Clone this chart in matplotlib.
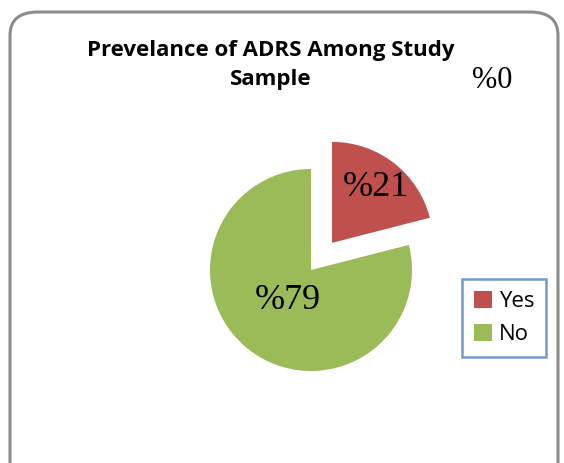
#!/usr/bin/env python3
"""Pie chart: prevalence of ADRS among study sample."""

import numpy as np
import matplotlib
matplotlib.use("Agg")
import matplotlib.pyplot as plt
from matplotlib.patches import FancyBboxPatch

labels = ["Yes", "No"]
values = [21, 79]
colors = ["#C0504D", "#9BBB59"]
explode = [0.34, 0.0]
label_dist = [0.70, 0.38]
extra_label = "%0"

W, H = 564, 463
fig = plt.figure(figsize=(W / 100, H / 100), dpi=100)

# rounded outer frame (bottom edge runs past the image)
frame = FancyBboxPatch(
    (10 / W, -30 / H), 548 / W, 481 / H,
    boxstyle="round,pad=0,rounding_size=0.05",
    transform=fig.transFigure, facecolor="none", edgecolor="#8c8c8c",
    linewidth=2.2, zorder=-1,
)
fig.patches.append(frame)

fig.text(271 / W, 1 - 65 / H, "Prevelance of ADRS Among Study\nSample",
         ha="center", va="center", fontsize=16, fontweight="bold",
         family="Open Sans", linespacing=1.45)
fig.text(492 / W, 1 - 80 / H, extra_label, ha="center", va="center",
         fontsize=22, family="Liberation Serif")

cx, cy, r, half = 311, 270, 101, 150
ax = fig.add_axes([(cx - half) / W, 1 - (cy + half) / H, 2 * half / W, 2 * half / H])
wedges, _ = ax.pie(values, colors=colors, explode=explode, startangle=90,
                   counterclock=False, radius=1.0)
ax.set_xlim(-half / r, half / r)
ax.set_ylim(-half / r, half / r)
ax.set_aspect("equal")
ax.axis("off")

for w, v, d in zip(wedges, values, label_dist):
    ang = np.deg2rad((w.theta1 + w.theta2) / 2)
    x0, y0 = w.center
    ax.text(x0 + d * np.cos(ang), y0 + d * np.sin(ang), f"%{v}",
            ha="center", va="center", fontsize=26, family="Liberation Serif")

leg = fig.legend(wedges, labels, loc="upper left",
                 bbox_to_anchor=(462 / W, 1 - 279 / H), frameon=True,
                 fancybox=False, handlelength=0.8, handleheight=0.8,
                 handletextpad=0.3, labelspacing=0.5, borderpad=0.55,
                 borderaxespad=0, prop={"family": "Open Sans", "size": 16})
leg.get_frame().set_edgecolor("#4F81BD")
leg.get_frame().set_linewidth(1.8)

fig.savefig("out.png", dpi=100)
